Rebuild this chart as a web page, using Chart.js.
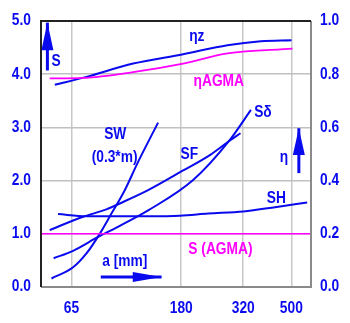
<!DOCTYPE html>
<html>
<head>
<meta charset="utf-8">
<script src="https://cdn.jsdelivr.net/npm/chart.js@4/dist/chart.umd.min.js"></script>
<style>
  html, body { margin: 0; padding: 0; background: #fff; }
  #wrap { width: 350px; height: 323px; position: relative; }
</style>
</head>
<body>
<div id="wrap"><canvas id="gearChart"></canvas></div>
<script>
// centre distance a [mm] (log axis)
const xTicks = [65, 180, 320, 500];

// safety factors (left axis)
const swX = [54, 66, 74.7, 84, 94.2, 106.6, 119.7, 145.2];
const swY = [0.16, 0.37, 0.63, 0.98, 1.38, 1.82, 2.32, 3.09];

const sfX = [53.1, 72.4, 89.9, 101.8, 132.4, 183.2, 234.8, 280, 312];
const sfY = [1.07, 1.32, 1.46, 1.57, 1.82, 2.19, 2.48, 2.74, 2.89];

const sdX = [55.1, 66, 83.2, 101.8, 132.4, 201, 280, 343.6];
const sdY = [0.54, 0.68, 0.94, 1.15, 1.44, 2.01, 2.74, 3.33];

const shX = [57.4, 74.7, 134.5, 177.7, 231, 320, 430, 579];
const shY = [1.37, 1.33, 1.33, 1.34, 1.38, 1.42, 1.50, 1.59];

const sAgmaX = [49, 600];
const sAgmaY = [1.0, 1.0];

// efficiencies (right axis)
const etaZX = [55.7, 74.7, 115.2, 183.2, 276.4, 376.5, 500.8];
const etaZY = [0.76, 0.79, 0.84, 0.875, 0.909, 0.924, 0.928];

const etaAgmaX = [53.1, 72.4, 115.2, 183.2, 276.4, 505.5];
const etaAgmaY = [0.784, 0.786, 0.808, 0.84, 0.878, 0.896];

const BLUE = '#0a0aee';
const MAGENTA = '#ff00ff';
const FONT = 'bold 16px "Liberation Sans", Arial, sans-serif';
const SQUEEZE = 0.86;   // narrow the glyphs a bit

const pts = (xs, ys) => xs.map((x, i) => ({ x: x, y: ys[i] }));

function line(data, color, axis, width) {
    return {
        data: data,
        yAxisID: axis,
        borderColor: color,
        borderWidth: width,
        pointRadius: 0,
        fill: false,
        cubicInterpolationMode: 'monotone'
    };
}

function narrowText(ctx, text, x, y, align, color) {
    ctx.save();
    ctx.translate(x, y);
    ctx.scale(SQUEEZE, 1);
    ctx.font = FONT;
    ctx.fillStyle = color;
    ctx.textAlign = align;
    ctx.textBaseline = 'middle';
    ctx.fillText(text, 0, 0);
    ctx.restore();
}

// text labels and arrows, placed in data coordinates
const labels = [
    { t: 'S', x: 56.4, y: 4.24, axis: 'y', c: BLUE },
    { t: 'ηz', x: 208, y: 0.943, axis: 'y1', c: BLUE },
    { t: 'ηAGMA', x: 255, y: 0.774, axis: 'y1', c: MAGENTA },
    { t: 'Sδ', x: 384, y: 3.28, axis: 'y', c: BLUE },
    { t: 'η', x: 467, y: 0.488, axis: 'y1', c: BLUE },
    { t: 'SF', x: 194, y: 2.48, axis: 'y', c: BLUE },
    { t: 'SH', x: 435, y: 1.67, axis: 'y', c: BLUE },
    { t: 'S (AGMA)', x: 259, y: 0.71, axis: 'y', c: MAGENTA },
    { t: 'SW', x: 97.6, y: 2.87, axis: 'y', c: BLUE },
    { t: '(0.3*m)', x: 97, y: 2.44, axis: 'y', c: BLUE },
    { t: 'a [mm]', x: 106.6, y: 0.47, axis: 'y', c: BLUE }
];

const arrows = [
    // vertical S arrow
    { x1: 52, y1: 4.07, x2: 52, y2: 4.97, headAt: 4.45, axis: 'y' },
    // vertical eta arrow
    { x1: 536, y1: 0.428, x2: 536, y2: 0.597, headAt: 0.496, axis: 'y1' },
    // horizontal a arrow
    { x1: 85.3, y1: 0.19, x2: 150, y2: 0.19, headAt: 114.8, axis: 'y' }
];

const decorPlugin = {
    id: 'decor',
    afterDraw(chart) {
        const { ctx, chartArea: a, scales } = chart;
        const sx = scales.x;

        // frame: dark top/left, lighter bottom/right
        ctx.save();
        ctx.lineWidth = 2;
        ctx.strokeStyle = '#8a8a8a';
        ctx.beginPath();
        ctx.moveTo(a.right, a.top);
        ctx.lineTo(a.right, a.bottom);
        ctx.lineTo(a.left, a.bottom);
        ctx.stroke();
        ctx.strokeStyle = '#222';
        ctx.beginPath();
        ctx.moveTo(a.left, a.bottom);
        ctx.lineTo(a.left, a.top);
        ctx.lineTo(a.right, a.top);
        ctx.stroke();
        ctx.restore();

        // tick labels from the chart's own scales
        sx.ticks.forEach(t => {
            narrowText(ctx, String(t.value), sx.getPixelForValue(t.value), a.bottom + 22, 'center', BLUE);
        });
        scales.y.ticks.forEach(t => {
            narrowText(ctx, t.value.toFixed(1), a.left - 10, scales.y.getPixelForValue(t.value), 'right', BLUE);
        });
        scales.y1.ticks.forEach(t => {
            narrowText(ctx, t.value.toFixed(1), a.right + 9, scales.y1.getPixelForValue(t.value), 'left', BLUE);
        });

        // arrows
        ctx.save();
        ctx.fillStyle = BLUE;
        ctx.strokeStyle = BLUE;
        arrows.forEach(ar => {
            const sy = scales[ar.axis];
            const x1 = sx.getPixelForValue(ar.x1), x2 = sx.getPixelForValue(ar.x2);
            const y1 = sy.getPixelForValue(ar.y1), y2 = sy.getPixelForValue(ar.y2);
            ctx.lineWidth = 3;
            ctx.beginPath();
            ctx.moveTo(x1, y1);
            ctx.lineTo(x2, y2);
            ctx.stroke();
            ctx.beginPath();
            if (x1 === x2) {
                const hb = sy.getPixelForValue(ar.headAt);
                ctx.moveTo(x2, y2);
                ctx.lineTo(x2 - 6, hb);
                ctx.lineTo(x2 + 6, hb);
            } else {
                const hb = sx.getPixelForValue(ar.headAt);
                ctx.moveTo(x2, y2);
                ctx.lineTo(hb, y2 - 5);
                ctx.lineTo(hb, y2 + 5);
            }
            ctx.closePath();
            ctx.fill();
        });
        ctx.restore();

        // curve names
        labels.forEach(l => {
            narrowText(ctx, l.t, sx.getPixelForValue(l.x), scales[l.axis].getPixelForValue(l.y), 'center', l.c);
        });
    }
};

new Chart(document.getElementById('gearChart'), {
    type: 'line',
    data: {
        datasets: [
            line(pts(sAgmaX, sAgmaY), MAGENTA, 'y', 1.5),
            line(pts(etaAgmaX, etaAgmaY), MAGENTA, 'y1', 1.8),
            line(pts(etaZX, etaZY), BLUE, 'y1', 2),
            line(pts(shX, shY), BLUE, 'y', 2),
            line(pts(sfX, sfY), BLUE, 'y', 2),
            line(pts(sdX, sdY), BLUE, 'y', 2),
            line(pts(swX, swY), BLUE, 'y', 2)
        ]
    },
    options: {
        responsive: true,
        maintainAspectRatio: false,
        animation: false,
        layout: { padding: { top: 21, left: 0, right: 0, bottom: 0 } },
        plugins: { legend: { display: false }, tooltip: { enabled: false } },
        scales: {
            x: {
                type: 'logarithmic',
                min: 49, max: 600,
                afterBuildTicks: s => { s.ticks = xTicks.map(v => ({ value: v })); },
                afterFit: s => { s.height = 36; },
                grid: { color: '#c8c8c8', lineWidth: 1.5, drawTicks: false },
                border: { display: false },
                ticks: { display: false }
            },
            y: {
                position: 'left',
                min: 0, max: 5,
                afterFit: s => { s.width = 41; },
                grid: { color: '#c0c0c0', lineWidth: 1.5, drawTicks: false },
                border: { display: false },
                ticks: { stepSize: 1, display: false }
            },
            y1: {
                position: 'right',
                min: 0, max: 1,
                afterFit: s => { s.width = 39; },
                grid: { display: false, drawTicks: false },
                border: { display: false },
                ticks: { stepSize: 0.2, display: false }
            }
        }
    },
    plugins: [decorPlugin]
});
</script>
</body>
</html>
